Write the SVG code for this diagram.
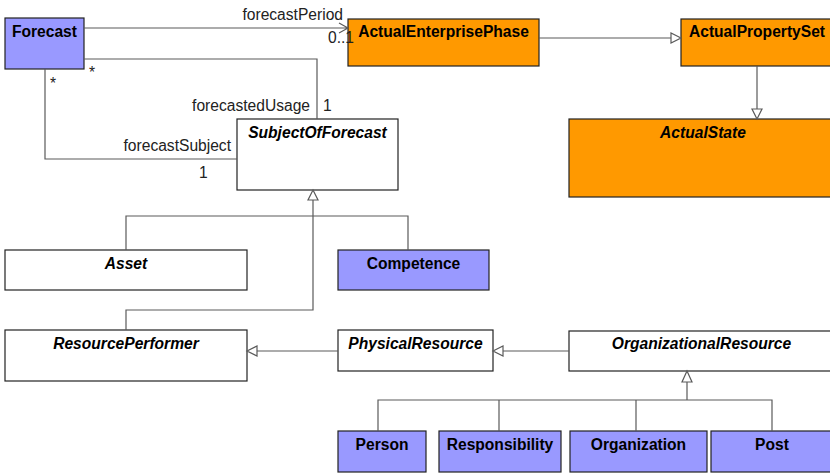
<svg xmlns="http://www.w3.org/2000/svg" width="830" height="474" viewBox="0 0 830 474">
<style>
.box{stroke:#222;stroke-width:1.2}
.blue{fill:#9999ff}
.orange{fill:#ff9900}
.white{fill:#ffffff}
.t{font-family:"Liberation Sans",Arial,sans-serif;font-size:15.6px;font-weight:bold;fill:#000;text-anchor:middle}
.i{font-style:italic}
.lbl{font-family:"Liberation Sans",Arial,sans-serif;font-size:15.6px;fill:#222}
.ln{fill:none;stroke:#5a5a5a;stroke-width:1.2}
.tri{fill:#fff;stroke:#5a5a5a;stroke-width:1.2}
</style>
<rect width="830" height="474" fill="#fff"/>
<g id="Forecast"><rect class="box blue" x="5" y="18" width="79" height="51"/><text class="t" x="44.5" y="37">Forecast</text></g>
<g id="ActualEnterprisePhase"><rect class="box orange" x="348" y="19" width="191" height="47"/><text class="t" x="443.5" y="37">ActualEnterprisePhase</text></g>
<g id="ActualPropertySet"><rect class="box orange" x="681" y="19" width="153" height="47"/><text class="t" x="757" y="37">ActualPropertySet</text></g>
<g id="ActualState"><rect class="box orange" x="569" y="119" width="268" height="78"/><text class="t i" x="703" y="138">ActualState</text></g>
<g id="SubjectOfForecast"><rect class="box white" x="237" y="119" width="161" height="71"/><text class="t i" x="317.5" y="138">SubjectOfForecast</text></g>
<g id="Asset"><rect class="box white" x="5" y="250" width="242" height="40"/><text class="t i" x="126" y="269">Asset</text></g>
<g id="Competence"><rect class="box blue" x="338" y="250" width="151" height="40"/><text class="t" x="413.5" y="269">Competence</text></g>
<g id="ResourcePerformer"><rect class="box white" x="5" y="330" width="242" height="51"/><text class="t i" x="126" y="349">ResourcePerformer</text></g>
<g id="PhysicalResource"><rect class="box white" x="338" y="330" width="155" height="41"/><text class="t i" x="415.5" y="349">PhysicalResource</text></g>
<g id="OrganizationalResource"><rect class="box white" x="569" y="331" width="265" height="40"/><text class="t i" x="701.5" y="349">OrganizationalResource</text></g>
<g id="Person"><rect class="box blue" x="338" y="431" width="88" height="41"/><text class="t" x="382" y="450">Person</text></g>
<g id="Responsibility"><rect class="box blue" x="439" y="431" width="122" height="41"/><text class="t" x="500" y="450">Responsibility</text></g>
<g id="Organization"><rect class="box blue" x="570" y="431" width="137" height="41"/><text class="t" x="638.5" y="450">Organization</text></g>
<g id="Post"><rect class="box blue" x="711" y="431" width="123" height="41"/><text class="t" x="772" y="450">Post</text></g>
<g id="connectors">
<path class="ln" d="M84 28H348M339 23L348 28L339 33"/>
<text class="lbl" x="343" y="20" text-anchor="end">forecastPeriod</text>
<text class="lbl" x="328" y="43">0..1</text>
<path class="ln" d="M84 59H317V119"/>
<text class="lbl" x="89" y="78">*</text>
<text class="lbl" x="310" y="111" text-anchor="end">forecastedUsage</text>
<text class="lbl" x="323" y="111">1</text>
<path class="ln" d="M45 69V159H237"/>
<text class="lbl" x="50" y="89">*</text>
<text class="lbl" x="231" y="151" text-anchor="end">forecastSubject</text>
<text class="lbl" x="199" y="178">1</text>
<path class="ln" d="M313 200V310H126V330M126 250V216H408V250"/>
<path class="tri" d="M313 190L318 200H308Z"/>
<path class="ln" d="M338 351H257"/>
<path class="tri" d="M247 351L257 346V356Z"/>
<path class="ln" d="M569 351H503"/>
<path class="tri" d="M493 351L503 346V356Z"/>
<path class="ln" d="M687 382V400M378 431V400H772V431M499 400V431M636 400V431"/>
<path class="tri" d="M687 371L692 382H682Z"/>
<path class="ln" d="M539 38H671"/>
<path class="tri" d="M681 38L671 33V43Z"/>
<path class="ln" d="M757 66V109"/>
<path class="tri" d="M757 119L752 109H762Z"/>
</g>
</svg>
